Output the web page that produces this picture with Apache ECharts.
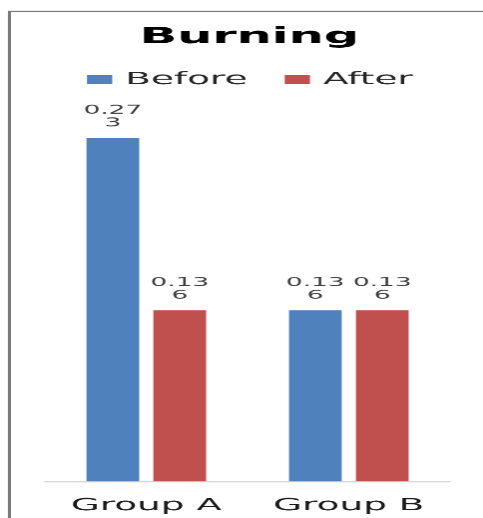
<!DOCTYPE html>
<html>
<head>
<meta charset="utf-8">
<script src="https://cdn.jsdelivr.net/npm/echarts@6/dist/echarts.min.js"></script>
<style>
html,body{margin:0;padding:0;background:#fff;overflow:hidden;}
#wrap{width:483px;height:518px;overflow:hidden;position:relative;}
#chart{width:220px;height:518px;transform:scaleX(2.1955);transform-origin:0 0;}
</style>
</head>
<body>
<div id="wrap"><div id="chart"></div></div>
<script>
const categories = ['Group A', 'Group B'];
const beforeValues = [0.273, 0.136];
const afterValues = [0.136, 0.136];
const seriesNames = ['Before', 'After'];

const chart = echarts.init(document.getElementById('chart'), null, {devicePixelRatio: 2.2});
const FONT = 'DejaVu Sans';
function wrapLabel(p) {
  const s = String(p.value);
  return s.length > 4 ? s.slice(0, 4) + '\n' + s.slice(4) : s;
}
const labelCfg = {
  show: true, position: 'top', distance: 8, formatter: wrapLabel,
  fontFamily: FONT, fontSize: 12, lineHeight: 13, color: '#404040'
};
chart.setOption({
  backgroundColor: '#fff',
  animation: false,
  title: {
    text: 'Burning', left: 58.5, top: 21, padding: 5,
    textStyle: {fontFamily: FONT, fontSize: 22.5, fontWeight: 'bold', color: '#000'}
  },
  legend: {
    data: seriesNames, left: 34.6, top: 66,
    itemWidth: 11.5, itemHeight: 9, itemGap: 17,
    icon: 'rect',
    textStyle: {fontFamily: FONT, fontSize: 17, color: '#262626', padding: [0,0,0,1]}
  },
  graphic: [{
    type: 'rect', silent: true,
    shape: {x: 4.3, y: 11.5, width: 300, height: 600},
    style: {fill: 'none', stroke: '#7a7a7a', lineWidth: 1.4}
  }],
  grid: {left: 20.5, right: 15, top: 104, bottom: 37, containLabel: false},
  xAxis: {
    type: 'category', data: categories,
    axisLine: {show: true, lineStyle: {color: '#d0d0d0', width: 1}},
    axisTick: {show: false},
    axisLabel: {fontFamily: FONT, fontSize: 17, color: '#1a1a1a', margin: 16}
  },
  yAxis: {
    type: 'value', min: 0, max: 0.3, show: false,
    splitLine: {show: false}
  },
  series: [
    {name: seriesNames[0], type: 'bar', data: beforeValues, barWidth: 24, barGap: '27%',
     itemStyle: {color: '#4F81BD'}, label: labelCfg},
    {name: seriesNames[1], type: 'bar', data: afterValues, barWidth: 24, barGap: '27%',
     itemStyle: {color: '#C0504D'}, label: labelCfg}
  ]
});
</script>
</body>
</html>
